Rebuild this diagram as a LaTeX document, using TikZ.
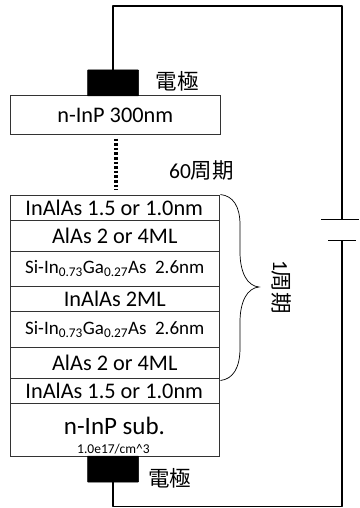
\documentclass[tikz,border=0pt]{standalone}
\usepackage{fontspec}
\setmainfont{Carlito}
\newfontfamily\cjk{Noto Sans CJK JP}
\tikzset{
 layer/.style={draw=black!80,line width=0.7pt,minimum width=209.5pt,inner sep=0pt,outer sep=0pt,anchor=north west,font=\fontsize{22.3}{24}\selectfont},
 contact/.style={fill=black,draw=black,line width=0.5pt,rounded corners=0.5pt,minimum width=51pt,inner sep=0pt,outer sep=0pt,anchor=north west},
 wire/.style={line width=1.3pt,line join=round},
 lbl/.style={inner sep=0pt},
 small/.style={font=\fontsize{19}{21}\selectfont}
}
\newcommand{\siga}{Si-In\textsubscript{0.73}Ga\textsubscript{0.27}As\ \ 2.6nm}
\newcommand{\jp}[1]{{\cjk\fontsize{21.5}{23}\selectfont #1}}
\begin{document}
\begin{tikzpicture}[x=1pt,y=-1pt]
\useasboundingbox (0,0) rectangle (359,508);
% layers
\node[layer,minimum height=39pt] (cap) at (10.5,95.5) {n-InP 300nm};
\node[layer,minimum height=25pt] (l1) at (10,195.5) {\hspace{-1pt}InAlAs 1.5 or 1.0nm};
\node[layer,minimum height=31pt] (l2) at (10,220.5) {AlAs 2 or 4ML};
\node[layer,minimum height=34.5pt,small] (l3) at (10,251.5) {\siga};
\node[layer,minimum height=25.5pt] (l4) at (10,286) {InAlAs 2ML};
\node[layer,minimum height=35.5pt,small] (l5) at (10,311.5) {\siga};
\node[layer,minimum height=31.5pt] (l6) at (10,347) {AlAs 2 or 4ML};
\node[layer,minimum height=24.5pt] (l7) at (10,378.5) {\hspace{-1pt}InAlAs 1.5 or 1.0nm};
\node[layer,minimum height=53pt,font=\fontsize{1}{1}\selectfont] (sub) at (10,403) {};
\node[inner sep=0pt,font=\fontsize{25}{27}\selectfont] (subt) at (114.5,425.5) {n-InP sub.};
\node[inner sep=0pt,font=\fontsize{13.5}{15}\selectfont] (subd) at (113.5,449) {1.0e17/cm\^{}3};
% contacts
\node[contact,minimum height=26pt] (ct) at (87.5,70) {};
\node[contact,minimum height=26pt] (cb) at (87.5,456) {};
% wires
\coordinate (tl) at (113,6);
\coordinate (tr) at (342,6);
\coordinate (batA) at (342,219);
\coordinate (batB) at (342,240);
\coordinate (br) at (342,506.5);
\coordinate (bl) at (113,506.5);
\coordinate (ctw) at (113,70);
\coordinate (cbw) at (113,482);
\draw[wire] (ctw) -- (tl) -- (tr) -- (batA);
\draw[wire] (batB) -- (br) -- (bl) -- (cbw);
\coordinate (p1a) at (321,219); \coordinate (p1b) at (359,219);
\coordinate (p2a) at (328,240); \coordinate (p2b) at (356,240);
\draw[line width=1pt] (p1a) -- (p1b);
\draw[line width=1pt] (p2a) -- (p2b);
% dots
\coordinate (da) at (116,138.5); \coordinate (db) at (116,190);
\draw[line width=3.2pt,dash pattern=on 2.6pt off 2pt] (da) -- (db);
% brace
\coordinate (bs) at (220.5,194.5); \coordinate (btip) at (259,287); \coordinate (be) at (220.5,380.5);
\draw[line width=0.7pt] (bs) .. controls (233,196) and (240,206) .. (240,225)
 -- (240,252) .. controls (240,272) and (247,286) .. (btip)
 .. controls (247,288) and (240,302) .. (240,322)
 -- (240,348) .. controls (240,368) and (233,379) .. (be);
% labels
\node[lbl] (e1) at (177,81) {\jp{電極}};
\node[lbl] (e2) at (169.5,478) {\jp{電極}};
\node[lbl,font=\fontsize{21.5}{23}\selectfont] (n60) at (201.5,171) {60\jp{周期}};
\node[lbl,rotate=-90,font=\fontsize{21.5}{23}\selectfont] (n1) at (281,287) {1\jp{周期}};
\end{tikzpicture}
\end{document}
